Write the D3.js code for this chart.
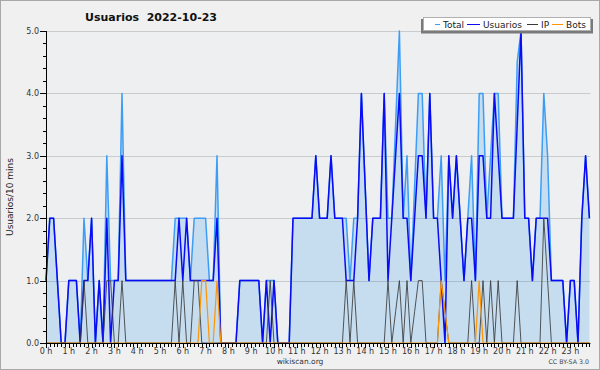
<!DOCTYPE html>
<html><head><meta charset="utf-8">
<script src="https://cdn.jsdelivr.net/npm/d3@7"></script>
<style>body{margin:0;background:#f0f0f0}svg{display:block;font-family:"DejaVu Sans",sans-serif}</style>
</head><body>
<script>
// ---- data (one value per 10 minutes, 00:00 .. 23:50) ----
const hourLabels = d3.range(24).map(h => h + " h");
const yTicks = [0, 1, 2, 3, 4, 5];
const seriesNames = ["Total", "Usuarios", "IP", "Bots"];
const total = [
 1,2,2,1,0,0,1,1,1,0,
 2,1,2,0,1,0,3,1,1,1,
 4,1,1,1,1,1,1,1,1,1,
 1,1,1,1,2,2,2,2,1,2,
 2,2,2,1,1,3,0,0,0,0,
 0,1,1,1,1,1,1,0,1,1,
 1,0,0,0,0,2,2,2,2,2,
 2,3,2,2,2,3,2,2,2,2,
 1,2,2,4,2.5,1,2,2,2,4,
 2,2,3.5,5,2,3,1,2.5,4,4,
 2,4,2,2,3,1,3,2,3,2,
 1,2,3,1,4,4,2,3,4,4,
 2,2,2,2,4.5,5,2,2,1,2,
 2,4,3,1,1,1,1,0,1,1,
 0,2,3,2];
const usuarios = [
 1,2,2,1,0,0,1,1,1,0,
 1,1,2,0,1,0,2,0,1,1,
 3,1,1,1,1,1,1,1,1,1,
 1,1,1,1,1,2,1,2,1,1,
 1,1,1,1,1,2,0,0,0,0,
 0,1,1,1,1,1,1,0,1,0,
 1,0,0,0,0,2,2,2,2,2,
 2,3,2,2,2,3,2,2,2,1,
 1,1,2,4,2.5,1,2,2,2,4,
 1,2,3,4,2,2,1,2,3,3,
 2,4,2,2,1,0,3,2,3,2,
 1,2,2,1,3,3,2,2,4,3,
 2,2,2,2,3.5,5,2,2,1,2,
 2,2,2,1,1,1,1,0,1,1,
 0,2,3,2];
const ip = [
 0,0,0,0,0,0,0,0,0,0,
 1,0,0,0,0,0,1,1,0,0,
 1,0,0,0,0,0,0,0,0,0,
 0,0,0,0,1,0,1,0,0,1,
 1,0,0,0,0,0,0,0,0,0,
 0,0,0,0,0,0,0,0,0,1,
 0,0,0,0,0,0,0,0,0,0,
 0,0,0,0,0,0,0,0,0,1,
 0,1,0,0,0,0,0,0,0,0,
 1,0,0.5,1,0,1,0,0.5,1,1,
 0,0,0,0,1,0.5,0,0,0,0,
 0,0,1,0,0,1,0,1,0,1,
 0,0,0,0,1,0,0,0,0,0,
 0,2,1,0,0,0,0,0,0,0,
 0,0,0,0];
const bots = [
 0,0,0,0,0,0,0,0,0,0,
 0,0,0,0,0,0,0,0,0,0,
 0,0,0,0,0,0,0,0,0,0,
 0,0,0,0,0,0,0,0,0,0,
 0,1,1,0,0,1,0,0,0,0,
 0,0,0,0,0,0,0,0,0,0,
 0,0,0,0,0,0,0,0,0,0,
 0,0,0,0,0,0,0,0,0,0,
 0,0,0,0,0,0,0,0,0,0,
 0,0,0,0,0,0,0,0,0,0,
 0,0,0,0,1,0.5,0,0,0,0,
 0,0,0,0,1,0,0,0,0,0,
 0,0,0,0,0,0,0,0,0,0,
 0,0,0,0,0,0,0,0,0,0,
 0,0,0,0];

// ---- layout ----
const W = 600, H = 370;
const L = 46, R = 589.4, T = 31, B = 343;
const svg = d3.select("body").append("svg").attr("width", W).attr("height", H);
svg.append("rect").attr("width", W).attr("height", H).attr("fill", "#f0f0f0");
svg.append("rect").attr("x", 0.5).attr("y", 0.5).attr("width", W - 1).attr("height", H - 1)
  .attr("fill", "none").attr("stroke", "#a8a8a8");

const x = d3.scaleLinear().domain([0, total.length - 1]).range([L, R]);
const y = d3.scaleLinear().domain([0, 5]).range([B, T]);

svg.append("rect").attr("x", L).attr("y", T).attr("width", R - L + 1).attr("height", B - T)
  .attr("fill", "#eeeff1");

// area under total
svg.append("path").datum(total)
  .attr("d", d3.area().x((d, i) => x(i)).y0(y(0)).y1(d => y(d)))
  .attr("fill", "#c6ddf0");

// grid
svg.append("g").selectAll("line").data(yTicks.slice(1)).join("line")
  .attr("x1", L).attr("x2", R + 1)
  .attr("y1", d => Math.round(y(d)) + 0.5).attr("y2", d => Math.round(y(d)) + 0.5)
  .attr("stroke", "rgba(0,0,0,0.15)");

// lines
const line = d3.line().x((d, i) => x(i)).y(d => y(d));
svg.append("path").datum(total).attr("d", line).attr("fill", "none")
  .attr("stroke", "#3d9df5").attr("stroke-width", 1.5).attr("stroke-linejoin", "round");
svg.append("path").datum(usuarios).attr("d", line).attr("fill", "none")
  .attr("stroke", "#0a0af5").attr("stroke-width", 1.5).attr("stroke-linejoin", "round");
svg.append("path").datum(ip).attr("d", line).attr("fill", "none")
  .attr("stroke", "#3a3a3a").attr("stroke-opacity", 0.85).attr("stroke-width", 1);
svg.append("path").datum(bots).attr("d", line).attr("fill", "none")
  .attr("stroke", "#ff9500").attr("stroke-width", 1.2);

// axes
const ax = svg.append("g").attr("stroke", "#000");
ax.append("line").attr("x1", L + 0.5).attr("x2", L + 0.5).attr("y1", T).attr("y2", B + 1);
ax.append("line").attr("x1", L).attr("x2", R + 1).attr("y1", B + 0.5).attr("y2", B + 0.5);
ax.selectAll(".ymin").data(d3.range(0, 26)).join("line")
  .attr("x1", d => d % 5 === 0 ? 40 : 43).attr("x2", L)
  .attr("y1", d => Math.round(y(d / 5)) + 0.5).attr("y2", d => Math.round(y(d / 5)) + 0.5);
ax.selectAll(".xmin").data(d3.range(0, total.length)).join("line")
  .attr("x1", d => Math.round(x(d)) + 0.5).attr("x2", d => Math.round(x(d)) + 0.5)
  .attr("y1", B + 1).attr("y2", d => d % 6 === 0 ? B + 5 : B + 4);

svg.append("g").selectAll("text").data(yTicks).join("text")
  .attr("x", 39).attr("y", d => y(d) + 3)
  .attr("text-anchor", "end").attr("font-size", 8).attr("fill", "#333")
  .text(d => d.toFixed(1));
svg.append("g").selectAll("text").data(hourLabels).join("text")
  .attr("x", (d, i) => x(i * 6)).attr("y", 353.5)
  .attr("text-anchor", "middle").attr("font-size", 8).attr("fill", "#333")
  .text(d => d);

// title & labels
svg.append("text").attr("x", 151).attr("y", 21).attr("text-anchor", "middle")
  .attr("font-size", 11).attr("font-weight", "bold").attr("fill", "#111")
  .style("white-space", "pre").text("Usuarios  2022-10-23");
svg.append("text").attr("transform", "translate(13,197) rotate(-90)")
  .attr("text-anchor", "middle").attr("font-size", 9).attr("fill", "#222")
  .text("Usuarios/10 mins");
svg.append("text").attr("x", 300).attr("y", 364).attr("text-anchor", "middle")
  .attr("font-size", 7.5).attr("fill", "#333").text("wikiscan.org");
svg.append("text").attr("x", 589).attr("y", 364).attr("text-anchor", "end")
  .attr("font-size", 6.3).attr("fill", "#444").text("CC BY-SA 3.0");

// legend
const colors = ["#3d9df5", "#0a0af5", "#3a3a3a", "#ff9500"];
const lg = svg.append("g");
lg.append("rect").attr("x", 421).attr("y", 19).attr("width", 172).attr("height", 14.5).attr("fill", "#7a7a7a");
lg.append("rect").attr("x", 423.5).attr("y", 17.5).attr("width", 167).attr("height", 13)
  .attr("fill", "#fff").attr("stroke", "#b0b0b0");
const itemX = [435, 467, 527, 552];
const itemW = [5, 13, 11, 11];
seriesNames.forEach((n, i) => {
  lg.append("line").attr("x1", itemX[i]).attr("x2", itemX[i] + itemW[i])
    .attr("y1", 24.5).attr("y2", 24.5).attr("stroke", colors[i]).attr("stroke-width", 1);
  lg.append("text").attr("x", itemX[i] + itemW[i] + 3).attr("y", 27.5)
    .attr("font-size", 9).attr("fill", "#222").text(n);
});
</script>
</body></html>
